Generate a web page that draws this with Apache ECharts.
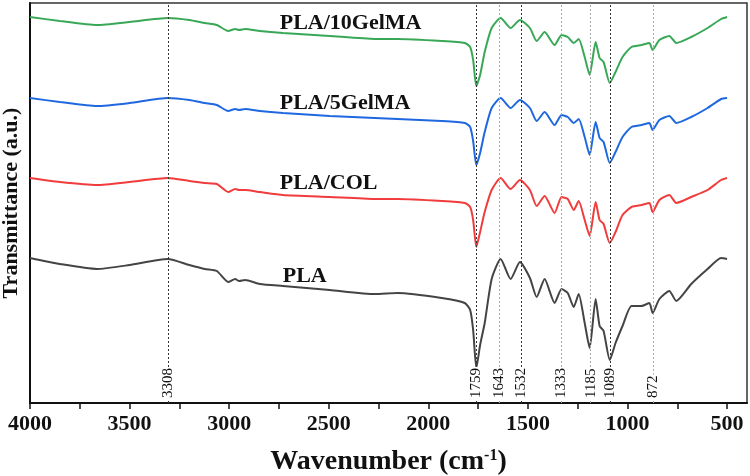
<!DOCTYPE html>
<html>
<head>
<meta charset="utf-8">
<script src="https://cdn.jsdelivr.net/npm/echarts@6/dist/echarts.min.js"></script>
<style>
  html, body { margin: 0; padding: 0; background: #fff; }
  #main { width: 750px; height: 476px; }
</style>
</head>
<body>
<div id="main"></div>
<script>
// wavenumber grid (cm-1)
var wavenumbers = [4000, 3850, 3664, 3500, 3308, 3200, 3122, 3062, 3005, 2970, 2950, 2920, 2846, 2730, 2495, 2269, 2154, 1933,
  1817, 1790, 1775, 1759, 1740, 1717, 1682, 1637, 1587, 1540, 1490, 1456, 1416, 1366, 1331, 1300, 1270, 1245, 1215,
  1190, 1160, 1140, 1120, 1089, 1060, 1025, 980, 930, 890, 874, 840, 790, 755, 680, 598, 530, 500];

// transmittance (a.u., curves already offset)
var pla10GelMA = [386, 382, 378, 381, 385, 383, 380, 378, 372, 374, 373, 374, 372, 370, 367, 364, 364, 362,
  360, 356, 343, 317, 328, 351, 375, 385, 375, 383, 375, 362, 371, 358, 368, 366, 360, 364, 346,
  328, 361, 345, 341, 320, 331, 346, 356, 358, 360, 353, 363, 367, 360, 366, 375, 384, 386];
var pla5GelMA = [305, 301, 297, 300, 305, 303, 300, 298, 292, 294, 293, 294, 292, 290, 287, 285, 284, 282,
  280, 276, 262, 238, 250, 271, 295, 305, 295, 303, 295, 282, 291, 278, 288, 286, 280, 284, 266,
  248, 281, 265, 261, 240, 251, 266, 276, 278, 280, 273, 283, 287, 280, 286, 295, 304, 305];
var plaCOL = [225, 221, 218, 221, 225, 222, 220, 219, 211, 214, 213, 213, 211, 208, 206, 204, 204, 202,
  200, 196, 183, 156, 171, 191, 213, 225, 214, 223, 213, 197, 207, 190, 206, 204, 193, 202, 183,
  167, 201, 183, 179, 160, 171, 188, 196, 198, 200, 191, 203, 208, 200, 206, 213, 223, 225];
var pla = [145, 139, 134, 138, 144, 138, 134, 132, 121, 124, 122, 123, 119, 117, 113, 109, 110, 105,
  100, 93, 73, 35, 58, 80, 124, 144, 124, 141, 125, 106, 124, 100, 114, 110, 96, 109, 80,
  55, 104, 77, 72, 43, 60, 77, 97, 97, 100, 90, 104, 112, 102, 119, 134, 145, 144];

var peakPositions = [3308, 1759, 1643, 1532, 1333, 1185, 1089, 872];
var strongPeaks = [3308, 1759, 1532, 1089];
var xLabelValues = [500, 1000, 1500, 2000, 2500, 3000, 3500, 4000];
var xTickValues = [500, 750, 1000, 1250, 1500, 1750, 2000, 2250, 2500, 2750, 3000, 3250, 3500, 3750, 4000];

var serif = "'Times New Roman', 'Liberation Serif', serif";

function pairs(values) {
  return wavenumbers.map(function (w, i) { return [w, values[i]]; });
}

// name tag placed next to each curve
function tag(name, w, v) {
  return {
    symbolSize: 0,
    silent: true,
    label: {
      show: true, position: 'right', distance: 0,
      formatter: name, color: '#111',
      fontFamily: serif, fontWeight: 'bold', fontSize: 22
    },
    data: [{ coord: [w, v] }]
  };
}

var peakLines = {
  silent: true,
  symbol: 'none',
  animation: false,
  label: {
    show: true,
    position: 'insideStartTop',
    distance: [4, 0],
    verticalAlign: 'middle',
    formatter: function (p) { return p.value; },
    color: '#111',
    fontFamily: serif,
    fontSize: 15,
    backgroundColor: '#fff',
    padding: [0, 1]
  },
  data: peakPositions.map(function (w) {
    var strong = strongPeaks.indexOf(w) >= 0;
    return {
      xAxis: w,
      lineStyle: { color: strong ? '#333' : '#aaa', width: 1, type: [2, 2] }
    };
  })
};

var chart = echarts.init(document.getElementById('main'));
chart.setOption({
  animation: false,
  grid: {
    left: 30, right: 3, top: 3, bottom: 73,
    outerBoundsMode: 'none',
    containLabel: false,
    show: true, borderColor: '#333', borderWidth: 1.5
  },
  xAxis: {
    type: 'value',
    inverse: true,
    min: 400,
    max: 4000,
    name: 'Wavenumber (cm{sup|-1})',
    nameLocation: 'middle',
    nameGap: 45,
    nameTextStyle: {
      fontFamily: serif, fontWeight: 'bold', fontSize: 28, color: '#111',
      rich: { sup: { fontFamily: serif, fontWeight: 'bold', fontSize: 16, color: '#111', verticalAlign: 'top', padding: [0, 0, 12, 0] } }
    },
    axisLine: { lineStyle: { color: '#111', width: 2 } },
    axisTick: { show: true, inside: false, length: 6, lineStyle: { color: '#111', width: 1.5 }, customValues: xTickValues },
    axisLabel: {
      margin: 10, color: '#111', fontFamily: serif, fontWeight: 'bold', fontSize: 22,
      customValues: xLabelValues,
      formatter: function (v) { return String(v); }
    },
    splitLine: { show: false }
  },
  yAxis: {
    type: 'value',
    min: 0,
    max: 400,
    name: 'Transmittance (a.u.)',
    nameLocation: 'middle',
    nameGap: 8,
    nameTextStyle: { fontFamily: serif, fontWeight: 'bold', fontSize: 22, color: '#111' },
    axisLine: { show: true, lineStyle: { color: '#111', width: 2 } },
    axisTick: { show: false },
    axisLabel: { show: false },
    splitLine: { show: false }
  },
  series: [
    {
      name: 'PLA/10GelMA', type: 'line', data: pairs(pla10GelMA), showSymbol: false, smooth: 0.2,
      lineStyle: { color: '#38a857', width: 2 }, z: 3,
      markLine: peakLines,
      markPoint: tag('PLA/10GelMA', 2746, 380)
    },
    {
      name: 'PLA/5GelMA', type: 'line', data: pairs(pla5GelMA), showSymbol: false, smooth: 0.2,
      lineStyle: { color: '#1f68df', width: 2 }, z: 3,
      markPoint: tag('PLA/5GelMA', 2746, 300)
    },
    {
      name: 'PLA/COL', type: 'line', data: pairs(plaCOL), showSymbol: false, smooth: 0.2,
      lineStyle: { color: '#f03c3c', width: 2 }, z: 3,
      markPoint: tag('PLA/COL', 2746, 220)
    },
    {
      name: 'PLA', type: 'line', data: pairs(pla), showSymbol: false, smooth: 0.2,
      lineStyle: { color: '#444', width: 2 }, z: 3,
      markPoint: tag('PLA', 2731, 127)
    }
  ]
});
</script>
</body>
</html>
